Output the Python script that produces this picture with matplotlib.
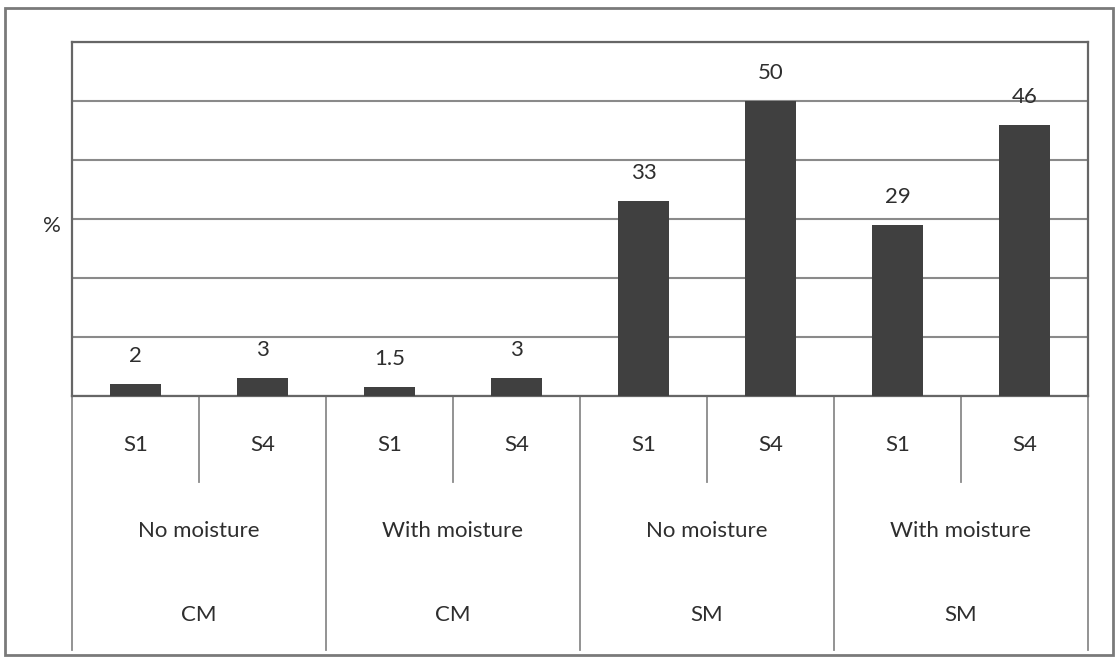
import matplotlib
matplotlib.use('Agg')
import matplotlib.pyplot as plt
import matplotlib.transforms as mtransforms
from matplotlib.patches import Rectangle
import numpy as np

plt.rcParams['font.family'] = ['Lato', 'DejaVu Sans']

# data
samples = ['S1', 'S4', 'S1', 'S4', 'S1', 'S4', 'S1', 'S4']
moisture = ['No moisture', 'With moisture', 'No moisture', 'With moisture']
material = ['CM', 'CM', 'SM', 'SM']
values = [2, 3, 1.5, 3, 33, 50, 29, 46]
value_labels = ['2', '3', '1.5', '3', '33', '50', '29', '46']

W, H = 1117, 662
fig = plt.figure(figsize=(W / 100, H / 100), dpi=100)
fig.patch.set_facecolor('white')

# outer frame
fig.patches.append(Rectangle((5 / W, 1 - 655 / H), 1108 / W, 647 / H,
                             transform=fig.transFigure, fill=False,
                             edgecolor='#7a7a7a', linewidth=2))

left, right, top, base = 72, 1088, 42, 396
ax = fig.add_axes([left / W, 1 - base / H, (right - left) / W, (base - top) / H])

x = np.arange(len(values))
ax.bar(x, values, width=0.40, color='#404040', zorder=3)
ax.set_xlim(-0.5, len(values) - 0.5)
ax.set_ylim(0, 60)
ax.set_yticks(np.arange(0, 61, 10))
ax.yaxis.grid(True, color='#8a8a8a', linewidth=1.5, zorder=0)
ax.set_xticks([])
ax.tick_params(axis='y', length=0, labelleft=False)
for s in ax.spines.values():
    s.set_color('#666666')
    s.set_linewidth(1.6)

fs = 16
tc = '#2e2e2e'
for xi, v, lab in zip(x, values, value_labels):
    ax.annotate(lab, (xi, v), xytext=(0, 28), textcoords='offset pixels',
                ha='center', va='center', fontsize=fs, color=tc)

ax.text(-20 / (right - left), 0.48, '%', transform=ax.transAxes, ha='center', va='center',
        fontsize=fs, color=tc)

# category table below the axis
trans = mtransforms.blended_transform_factory(ax.transData, ax.transAxes)
hpx = base - top
y_short = -(482 - base) / hpx
y_long = -(650 - base) / hpx
lc = '#8a8a8a'
for b in [-0.5, 1.5, 3.5, 5.5, 7.5]:
    ax.plot([b, b], [0, y_long], transform=trans, color=lc, lw=1.3, clip_on=False)
for b in [0.5, 2.5, 4.5, 6.5]:
    ax.plot([b, b], [0, y_short], transform=trans, color=lc, lw=1.3, clip_on=False)

y_s = -(445 - base) / hpx
y_m = -(531 - base) / hpx
y_c = -(615 - base) / hpx
for xi, s in zip(x, samples):
    ax.text(xi, y_s, s, transform=trans, ha='center', va='center', fontsize=fs, color=tc)
for i, (m, c) in enumerate(zip(moisture, material)):
    xc = 2 * i + 0.5
    ax.text(xc, y_m, m, transform=trans, ha='center', va='center', fontsize=fs, color=tc)
    ax.text(xc, y_c, c, transform=trans, ha='center', va='center', fontsize=fs, color=tc)

fig.savefig('out.png', dpi=100, facecolor='white')
